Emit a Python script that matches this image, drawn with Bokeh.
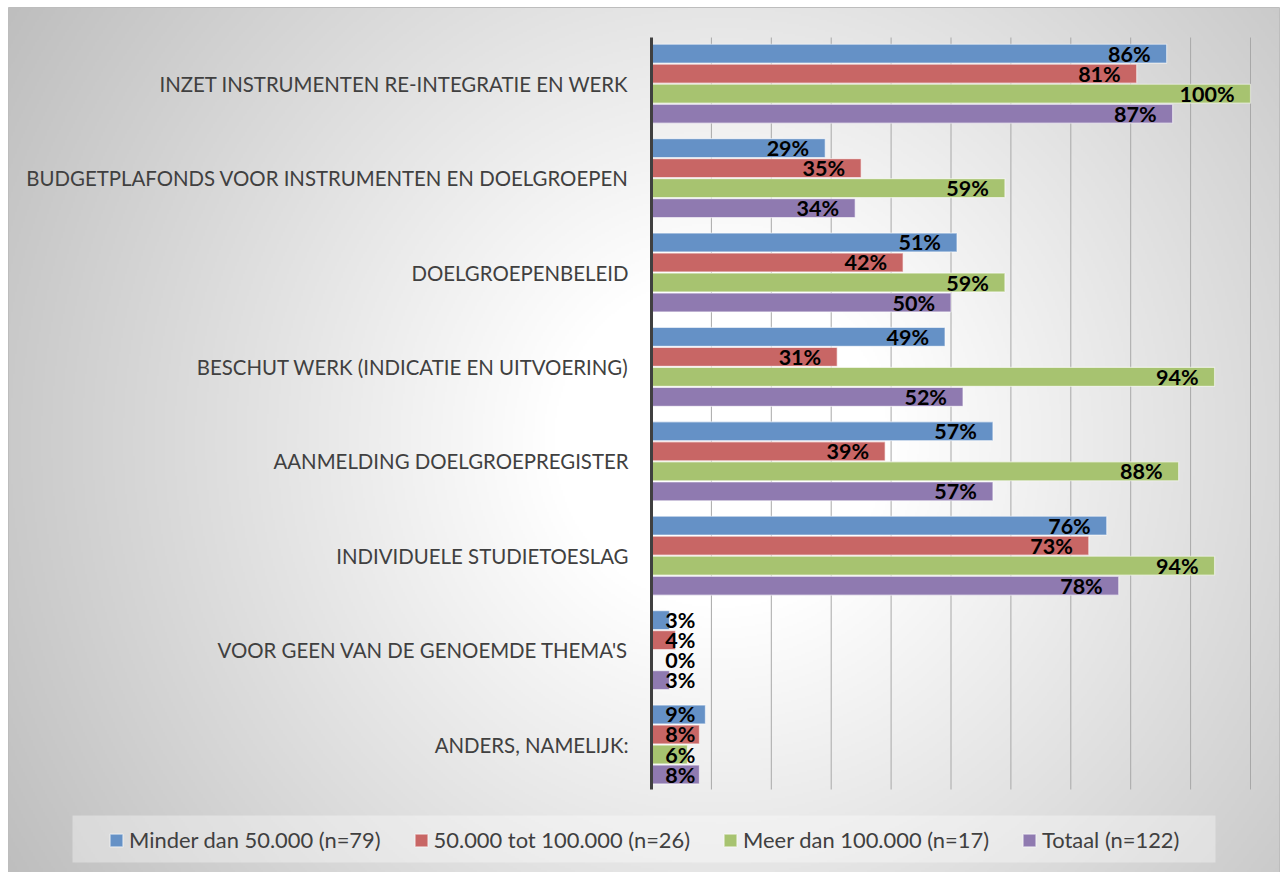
import numpy as np
from bokeh.plotting import figure
from bokeh.models import ColumnDataSource, Range1d, Legend, LegendItem
from bokeh.core.properties import value
from bokeh.embed import file_html
from bokeh.resources import INLINE

# ---------------- data ----------------
categories = [
    "INZET INSTRUMENTEN RE-INTEGRATIE EN WERK",
    "BUDGETPLAFONDS VOOR INSTRUMENTEN EN DOELGROEPEN",
    "DOELGROEPENBELEID",
    "BESCHUT WERK (INDICATIE EN UITVOERING)",
    "AANMELDING DOELGROEPREGISTER",
    "INDIVIDUELE STUDIETOESLAG",
    "VOOR GEEN VAN DE GENOEMDE THEMA'S",
    "ANDERS, NAMELIJK:",
]
series_names = [
    "Minder dan 50.000 (n=79)",
    "50.000 tot 100.000 (n=26)",
    "Meer dan 100.000 (n=17)",
    "Totaal (n=122)",
]
minder_dan_50000 = [86, 29, 51, 49, 57, 76, 3, 9]
tussen_50000_100000 = [81, 35, 42, 31, 39, 73, 4, 8]
meer_dan_100000 = [100, 59, 59, 94, 88, 94, 0, 6]
totaal = [87, 34, 50, 52, 57, 78, 3, 8]
grid_ticks = [10, 20, 30, 40, 50, 60, 70, 80, 90, 100]

series_values = [minder_dan_50000, tussen_50000_100000, meer_dan_100000, totaal]
colors = ["#6591C6", "#C86665", "#A7C370", "#8F7AB0"]

# ---------------- layout helpers ----------------
W, H = 1281, 872
X0PX = 651.0      # pixel of 0 %
PXPCT = 5.99      # pixels per percent
TOPPX = 36.0      # pixel of top of first category slot
SLOT = 94.4       # pixel height of one category slot
n = len(categories)


def xd(px):
    return (px - X0PX) / PXPCT


def yd(px):
    return n - (px - TOPPX) / SLOT


p = figure(
    width=W, height=H,
    x_range=Range1d(xd(0), xd(W)),
    y_range=Range1d(yd(H), yd(0)),
    output_backend="svg", toolbar_location=None,
    min_border=0, x_axis_location=None, y_axis_location=None,
    outline_line_color=None,
    background_fill_color="white", border_fill_color="white",
)
p.xgrid.visible = False
p.ygrid.visible = False

# ---------------- radial gradient background ----------------
bx0, by0, bx1, by1 = 8, 7, 1279, 872
step = 2
gw = (bx1 - bx0) // step
gh = (by1 - by0) // step
yy, xx = np.mgrid[0:gh, 0:gw]
pxs = bx0 + (xx + 0.5) * step
pys = by0 + (yy + 0.5) * step
cx, cy = 720.0, 440.0
R = np.hypot(max(cx - bx0, bx1 - cx), max(cy - by0, by1 - cy))
d = np.hypot(pxs - cx, pys - cy) / R
t = np.clip((d - 0.2) / 0.8, 0, 1)
g = (255 - 65 * t).astype(np.uint8)
img = np.empty((gh, gw), dtype=np.uint32)
view = img.view(dtype=np.uint8).reshape((gh, gw, 4))
view[..., 0] = g
view[..., 1] = g
view[..., 2] = g
view[..., 3] = 255
img = np.flipud(img).copy()
p.image_rgba(image=[img], x=xd(bx0), y=yd(by1),
             dw=xd(bx1) - xd(bx0), dh=yd(by0) - yd(by1))
p.quad(left=[xd(bx0)], right=[xd(bx1)], top=[yd(by0)], bottom=[yd(by1)],
       fill_alpha=0, line_color="#bdbdbd", line_width=1)

# ---------------- gridlines and axis ----------------
p.segment(x0=grid_ticks, x1=grid_ticks,
          y0=[yd(37)] * len(grid_ticks), y1=[yd(789)] * len(grid_ticks),
          line_color="#a8a8a8", line_width=1)

# ---------------- bars ----------------
pitch = 0.212
renderers = []
for k, (vals, col) in enumerate(zip(series_values, colors)):
    ys = [n - 0.5 - i - (k - 1.5) * pitch for i in range(n)]
    src = ColumnDataSource(dict(
        y=ys, right=vals,
        lx=[max(v, 10) for v in vals],
        lab=[f"{v}%" for v in vals],
    ))
    r = p.hbar(y="y", left=0, right="right", height=0.2, source=src,
               fill_color=col, line_color="white", line_alpha=0.55, line_width=1.2)
    renderers.append((r, src))

p.segment(x0=[0], x1=[0], y0=[yd(37)], y1=[yd(789)],
          line_color="#404040", line_width=3)

for r, src in renderers:
    p.text(x="lx", y="y", text="lab", source=src, x_offset=-16,
           text_align="right", text_baseline="middle",
           text_font=value("Lato"), text_font_style="bold",
           text_font_size="21.5px", text_color="black")

# ---------------- category labels ----------------
cat_src = ColumnDataSource(dict(
    x=[0] * n, y=[n - 0.5 - i for i in range(n)], text=categories))
p.text(x="x", y="y", text="text", source=cat_src, x_offset=-23,
       text_align="right", text_baseline="middle",
       text_font=value("Lato"), text_font_size="20.4px", text_color="#404040")

# ---------------- legend ----------------
p.quad(left=[xd(72)], right=[xd(1215)], top=[yd(815)], bottom=[yd(862)],
       fill_color="white", fill_alpha=0.35, line_alpha=0)

legend = Legend(
    items=[LegendItem(label=name, renderers=[r])
           for name, (r, _) in zip(series_names, renderers)],
    orientation="horizontal", location=(108, 19),
    glyph_width=16, glyph_height=16, label_standoff=5, spacing=32,
    padding=0, margin=0, background_fill_alpha=0, border_line_alpha=0,
    label_text_font="Lato", label_text_font_size="21.9px",
    label_text_color="#404040", label_height=24,
)
p.add_layout(legend)

open("out.html", "w").write(file_html(p, INLINE))
